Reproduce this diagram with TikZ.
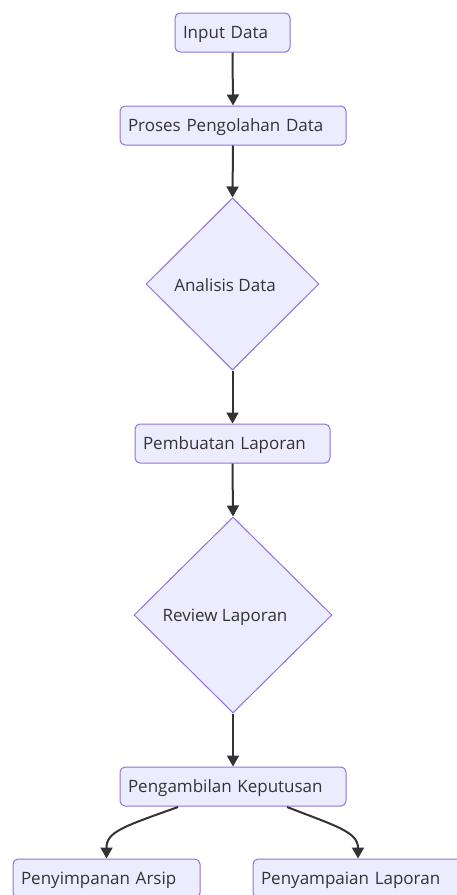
\documentclass[tikz,border=0pt]{standalone}
\usepackage{fontspec}
\setmainfont{Open Sans}
\usetikzlibrary{shapes.geometric,arrows.meta}
\definecolor{nodefill}{HTML}{ECECFF}
\definecolor{nodeline}{HTML}{9370DB}
\definecolor{txt}{HTML}{333333}
\definecolor{edge}{HTML}{333333}
\begin{document}
\begin{tikzpicture}[x=1pt,y=-1pt,
  every node/.style={font=\fontsize{17}{20}\selectfont, text=txt},
  box/.style={draw=nodeline, fill=nodefill, line width=1pt, rounded corners=5pt,
     minimum height=39pt, inner xsep=8pt, inner ysep=0pt, align=left,
     text height=14pt, text depth=2pt},
  dia/.style={draw=nodeline, fill=nodefill, line width=1pt, diamond, aspect=1, inner sep=0pt},
  lbl/.style={inner sep=0pt, text height=14pt, text depth=2pt},
  arr/.style={draw=edge, line width=2pt, -{Triangle[length=11pt,width=12pt]}}
]
\useasboundingbox (0,0) rectangle (456,895);
\node[box, text width=99pt] (in) at (232.5,32.5) {Input Data};
\node[box, text width=210pt] (pr) at (233,125.5) {Proses Pengolahan Data};
\node[dia, minimum width=173pt, minimum height=172pt] (an) at (232.5,284) {};
\node[lbl] (anl) at (225,285) {Analisis Data};
\node[box, text width=179pt] (pb) at (232.5,443.5) {Pembuatan Laporan};
\node[dia, minimum width=198pt, minimum height=196pt] (rv) at (233,615) {};
\node[lbl] (rvl) at (225,615) {Review Laporan};
\node[box, text width=210pt] (pk) at (233,786.5) {Pengambilan Keputusan};
\node[box, text width=171pt] (ps) at (106.5,878.5) {Penyimpanan Arsip};
\node[box, text width=194pt] (pl) at (358,878.5) {Penyampaian Laporan};
\coordinate (pkL) at (178,807);
\coordinate (pkR) at (287,807);
\draw[arr] (in.south) -- (pr.north);
\draw[arr] (pr.south) -- (an.north);
\draw[arr] (an.south) -- (pb.north);
\draw[arr] (pb.south) -- (rv.north);
\draw[arr] (rv.south) -- (pk.north);
\draw[arr] (pkL) .. controls (122,827) and (106.5,832) .. (ps.north);
\draw[arr] (pkR) .. controls (336,826) and (358,832) .. (pl.north);
\end{tikzpicture}
\end{document}
